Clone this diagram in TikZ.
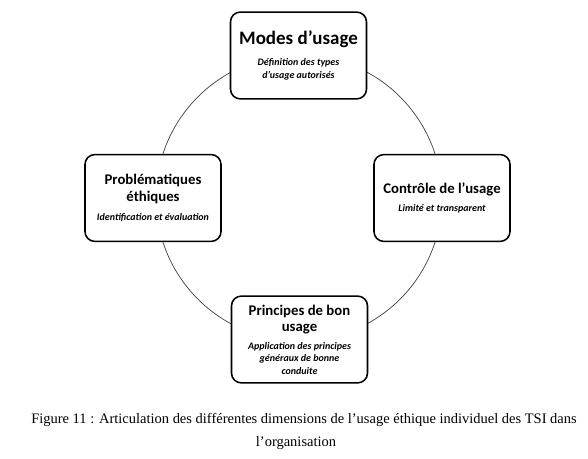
\documentclass[tikz,border=0pt]{standalone}
\usepackage{fontspec}
\setmainfont{Carlito}
\newfontfamily\capfont{Liberation Serif}
\usepackage{tikz}
\newcommand{\dimtitlefont}{\bfseries\fontsize{10.5}{11.6}\selectfont}
\newcommand{\dimsubfont}{\bfseries\itshape\fontsize{7.1}{8.8}\selectfont}

\begin{document}
\begin{tikzpicture}[x=0.025cm, y=-0.025cm,
  dimbox/.style={draw, line width=1.1pt, rounded corners=7pt, fill=white,
    minimum width=3.4cm, minimum height=2.17cm, text width=3.2cm, align=flush center, inner sep=2pt}]
\useasboundingbox (0,0) rectangle (588,459);
\draw[black!75, line width=0.5pt] (299,198) circle (143);
\node[dimbox] (modes) at (298.5,55.5) {{\bfseries\fontsize{13.5}{15}\selectfont Modes d’usage\par}\vspace{6pt}
  {\dimsubfont Définition des types\\ d’usage autorisés\par}};
\node[dimbox] (controle) at (442,198) {{\dimtitlefont Contrôle de l’usage\par}\vspace{4.5pt}
  {\dimsubfont Limité et transparent\par}};
\node[dimbox] (ethique) at (153,198) {{\dimtitlefont Problématiques\\ éthiques\par}\vspace{5pt}
  {\dimsubfont Identification et évaluation\par}};
\node[dimbox] (principes) at (299.5,339.5) {{\dimtitlefont Principes de bon\\ usage\par}\vspace{4pt}
  {\dimsubfont Application des principes\\ généraux de bonne\\ conduite\par}};
% legende
\node[font=\capfont\fontsize{10.3}{12}\selectfont] (leg1) at (304,420)
  {Figure 11 : Articulation des différentes dimensions de l’usage éthique individuel des TSI dans};
\node[font=\capfont\fontsize{10.3}{12}\selectfont] (leg2) at (296,443) {l’organisation};
\end{tikzpicture}
\end{document}
